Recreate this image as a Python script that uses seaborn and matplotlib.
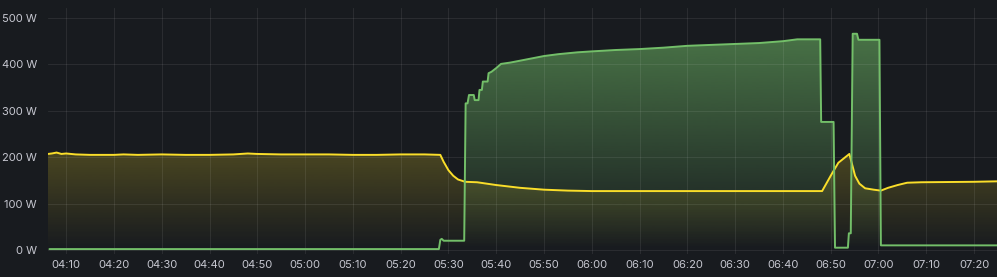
import numpy as np
import pandas as pd
import matplotlib
matplotlib.use("Agg")
import matplotlib.pyplot as plt
import matplotlib.dates as mdates
import seaborn as sns

# ---- data (times as HH:MM with fractional minutes, values in W) ----
yellow_times = ["04:06.2", "04:07", "04:08", "04:09", "04:10", "04:12", "04:15", "04:20",
                "04:22", "04:25", "04:30", "04:35", "04:40", "04:45", "04:48", "04:50",
                "04:55", "05:00", "05:05", "05:10", "05:15", "05:20", "05:25", "05:28.3",
                "05:29", "05:30", "05:31", "05:32", "05:33.5", "05:36", "05:38", "05:40",
                "05:45", "05:50", "05:55", "06:00", "06:10", "06:20", "06:30", "06:40",
                "06:48.2", "06:50", "06:51.6", "06:53.9", "06:55.1", "06:56", "06:57.2",
                "06:59", "07:00.5", "07:02", "07:04", "07:06", "07:09", "07:20", "07:24.8"]
yellow_values = [207, 208, 210, 207, 208, 206, 205, 205,
                 206, 205, 206, 205, 205, 206, 208, 207,
                 206, 206, 206, 205, 205, 206, 206, 205,
                 190, 172, 160, 152, 147, 146, 143, 140,
                 134, 130, 128, 127, 127, 127, 127, 127,
                 127, 160, 188, 207, 160, 143, 133,
                 130, 128, 134, 140, 145, 146, 147, 148]

green_times = ["04:06.5", "05:28.0", "05:28.3", "05:28.6", "05:29", "05:33.3", "05:33.6",
               "05:34.0", "05:34.3", "05:35.3", "05:35.5", "05:36.3", "05:36.5", "05:37",
               "05:37.2", "05:38.2", "05:38.4", "05:39", "05:40", "05:41", "05:43", "05:45",
               "05:48", "05:50", "05:53", "05:57", "06:00", "06:05", "06:10", "06:15",
               "06:20", "06:25", "06:30", "06:35", "06:40", "06:43", "06:47.8", "06:48.0",
               "06:50.6", "06:50.9", "06:53.6", "06:53.8", "06:54.2", "06:54.6", "06:55.5",
               "06:55.8", "07:00.2", "07:00.5", "07:24.8"]
green_values = [2, 2, 22, 24, 20, 20, 316,
                316, 334, 334, 323, 323, 345, 345,
                363, 363, 381, 384, 392, 401, 404, 408,
                414, 418, 422, 426, 428, 431, 433, 436,
                440, 442, 444, 446, 450, 454, 454, 276,
                276, 5, 5, 36, 36, 466, 466,
                453, 453, 10, 10]

y_ticks = [0, 100, 200, 300, 400, 500]
y_tick_labels = ["0 W", "100 W", "200 W", "300 W", "400 W", "500 W"]


def to_dt(s):
    h, m = s.split(":")
    return pd.Timestamp("2024-01-01") + pd.Timedelta(hours=int(h), minutes=float(m))


df_y = pd.DataFrame({"time": [to_dt(t) for t in yellow_times], "W": yellow_values})
df_g = pd.DataFrame({"time": [to_dt(t) for t in green_times], "W": green_values})

BG = "#181b1f"
TXT = "#c7c8d1"
GREEN = "#73bf69"
YELLOW = "#fade2a"

sns.set_theme(style="dark")
plt.rcParams["font.family"] = ["Inter", "DejaVu Sans"]

fig = plt.figure(figsize=(9.97, 2.77), dpi=100, facecolor=BG)
ax = fig.add_axes([48 / 997, 23 / 277, 1 - 48 / 997, (254 - 8) / 277])
ax.set_facecolor(BG)

x0 = to_dt("04:06.2")
x1 = to_dt("07:24.8")
ylo, yhi = -8.6, 521.5
ax.set_xlim(x0, x1)
ax.set_ylim(ylo, yhi)


def gradient_fill(df, color, k, z):
    xs = mdates.date2num(df["time"])
    poly = ax.fill_between(xs, df["W"].values, 0, color="none", lw=0, zorder=z)
    path = poly.get_paths()[0]
    n = 256
    yy = np.linspace(yhi, ylo, n)
    alpha = np.clip(k * yy, 0, 1)
    rgb = matplotlib.colors.to_rgb(color)
    img = np.zeros((n, 1, 4))
    img[:, 0, :3] = rgb
    img[:, 0, 3] = alpha
    im = ax.imshow(img, extent=[mdates.date2num(x0), mdates.date2num(x1), ylo, yhi],
                   aspect="auto", origin="upper", zorder=z, interpolation="bilinear")
    im.set_clip_path(path, transform=ax.transData)


gradient_fill(df_g, GREEN, 0.00116, 1)
gradient_fill(df_y, YELLOW, 0.00105, 2)

sns.lineplot(data=df_y, x="time", y="W", color=YELLOW, lw=1.4, ax=ax,
             estimator=None, sort=False, zorder=4)
sns.lineplot(data=df_g, x="time", y="W", color=GREEN, lw=1.4, ax=ax,
             estimator=None, sort=False, zorder=5)

ax.set_xlim(x0, x1)
ax.set_ylim(ylo, yhi)

ax.xaxis.set_major_locator(mdates.MinuteLocator(byminute=range(0, 60, 10)))
ax.xaxis.set_major_formatter(mdates.DateFormatter("%H:%M"))
ax.set_yticks(y_ticks)
ax.set_yticklabels(y_tick_labels)

ax.grid(True, color="#ffffff", alpha=0.08, lw=0.8, zorder=3)
ax.set_axisbelow(False)
for ln in ax.get_xgridlines() + ax.get_ygridlines():
    ln.set_zorder(3)

ax.tick_params(axis="both", length=0, colors=TXT, labelsize=8)
ax.tick_params(axis="y", pad=8)
ax.tick_params(axis="x", pad=4)
ax.set_xlabel("")
ax.set_ylabel("")
for s in ax.spines.values():
    s.set_visible(False)

fig.savefig("out.png", dpi=100, facecolor=BG)
